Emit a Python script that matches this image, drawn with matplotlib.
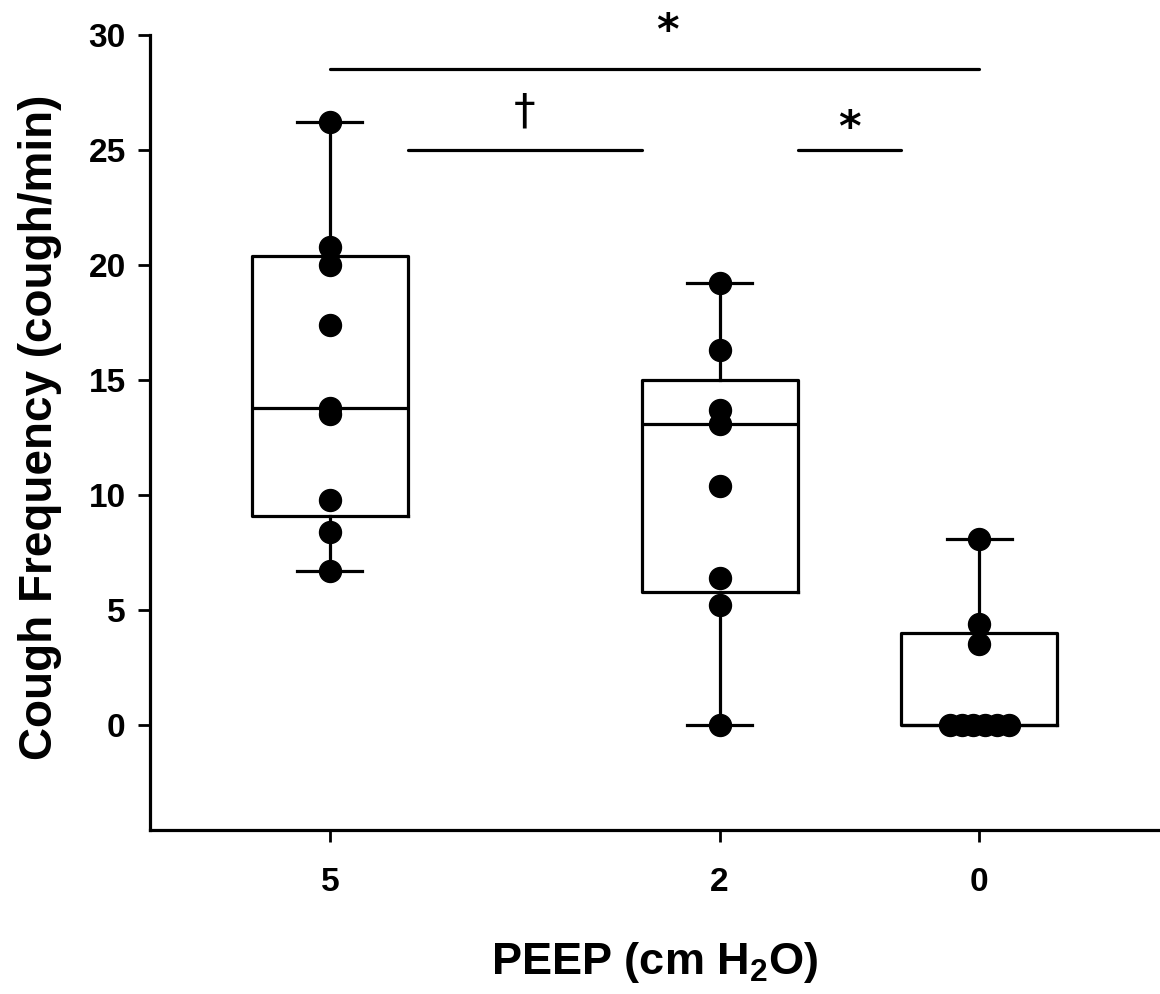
import numpy as np
import matplotlib
matplotlib.use("Agg")
import matplotlib.pyplot as plt

plt.rcParams['font.family'] = ['Liberation Sans', 'DejaVu Sans']
plt.rcParams['mathtext.fontset'] = 'custom'
plt.rcParams['mathtext.rm'] = 'Liberation Sans:bold'
plt.rcParams['mathtext.it'] = 'Liberation Sans:bold'
plt.rcParams['mathtext.bf'] = 'Liberation Sans:bold'

# PEEP levels (cm H2O) and cough frequency per animal
peep = [5, 2, 0]
tos_5 = [26.2, 20.8, 20.0, 17.4, 13.8, 13.5, 9.8, 8.4, 6.7]
tos_2 = [19.2, 16.3, 13.7, 13.1, 10.4, 6.4, 5.2, 0.0]
tos_0 = [8.1, 4.4, 3.5, 0.0, 0.0, 0.0, 0.0, 0.0, 0.0]
datos = [tos_5, tos_2, tos_0]

# box stats (q1, median, q3, whisker low, whisker high)
q1 = [9.1, 5.8, 0.0]
mediana = [13.8, 13.1, 0.0]
q3 = [20.4, 15.0, 4.0]
bigote_bajo = [6.7, 0.0, 0.0]
bigote_alto = [26.2, 19.2, 8.1]

# significance bars
barras_x0 = [5.0, 4.4, 1.4]
barras_x1 = [0.0, 2.6, 0.6]
barras_y = [28.5, 25.0, 25.0]
simbolos = ['*', '†', '*']
simbolos_x = [2.4, 3.5, 1.0]
simbolos_y = [29.2, 25.75, 25.0]

fig = plt.figure(figsize=(11.6, 9.94), dpi=100)
ax = fig.add_axes([0.1293, 0.165, 0.8707, 0.7998])

lw = 2.3
stats = []
for i in range(3):
    stats.append(dict(med=mediana[i], q1=q1[i], q3=q3[i],
                      whislo=bigote_bajo[i], whishi=bigote_alto[i], fliers=[]))
ax.bxp(stats, positions=peep, widths=1.2, showfliers=False, manage_ticks=False,
       boxprops=dict(color='black', linewidth=lw),
       medianprops=dict(color='black', linewidth=lw),
       whiskerprops=dict(color='black', linewidth=lw),
       capprops=dict(color='black', linewidth=lw),
       capwidths=0.5)

# puntos: valores repetidos se separan en horizontal
for xp, vals in zip(peep, datos):
    vals = np.array(vals)
    xs = np.full(len(vals), float(xp))
    for v in np.unique(vals):
        idx = np.where(vals == v)[0]
        if len(idx) > 1:
            off = (np.arange(len(idx)) - (len(idx) - 1) / 2) * 0.092
            xs[idx] = xp + off
    ax.scatter(xs, vals, s=250, color='black', zorder=5, clip_on=False)

for x0, x1, y in zip(barras_x0, barras_x1, barras_y):
    ax.plot([x0, x1], [y, y], color='black', linewidth=lw, clip_on=False,
            solid_capstyle='round')
for sym, xs, ys in zip(simbolos, simbolos_x, simbolos_y):
    peso = 'bold' if sym == '*' else 'normal'
    ax.text(xs, ys, sym, ha='center', va='bottom', fontsize=31,
            fontweight=peso, family=['DejaVu Sans'], clip_on=False)

ax.set_xlim(6.385, -1.39)
ax.set_ylim(-4.57, 30)
ax.set_xticks(peep)
ax.set_xticklabels([str(p) for p in peep])
ax.set_yticks(np.arange(0, 31, 5))

for s in ['top', 'right']:
    ax.spines[s].set_visible(False)
for s in ['left', 'bottom']:
    ax.spines[s].set_linewidth(lw)
ax.tick_params(axis='both', direction='out', length=8.5, width=2,
               labelsize=24)
ax.tick_params(axis='x', pad=18)
ax.tick_params(axis='y', pad=9)
for lab in ax.get_xticklabels() + ax.get_yticklabels():
    lab.set_fontweight('bold')

ax.set_xlabel('PEEP (cm H$_2$O)', fontsize=32.5, fontweight='bold')
ax.set_ylabel('Cough Frequency (cough/min)', fontsize=33, fontweight='bold')
ax.xaxis.set_label_coords(0.5, -0.138)
ax.yaxis.set_label_coords(-0.087, 0.507)

fig.savefig('out.png', dpi=100)
